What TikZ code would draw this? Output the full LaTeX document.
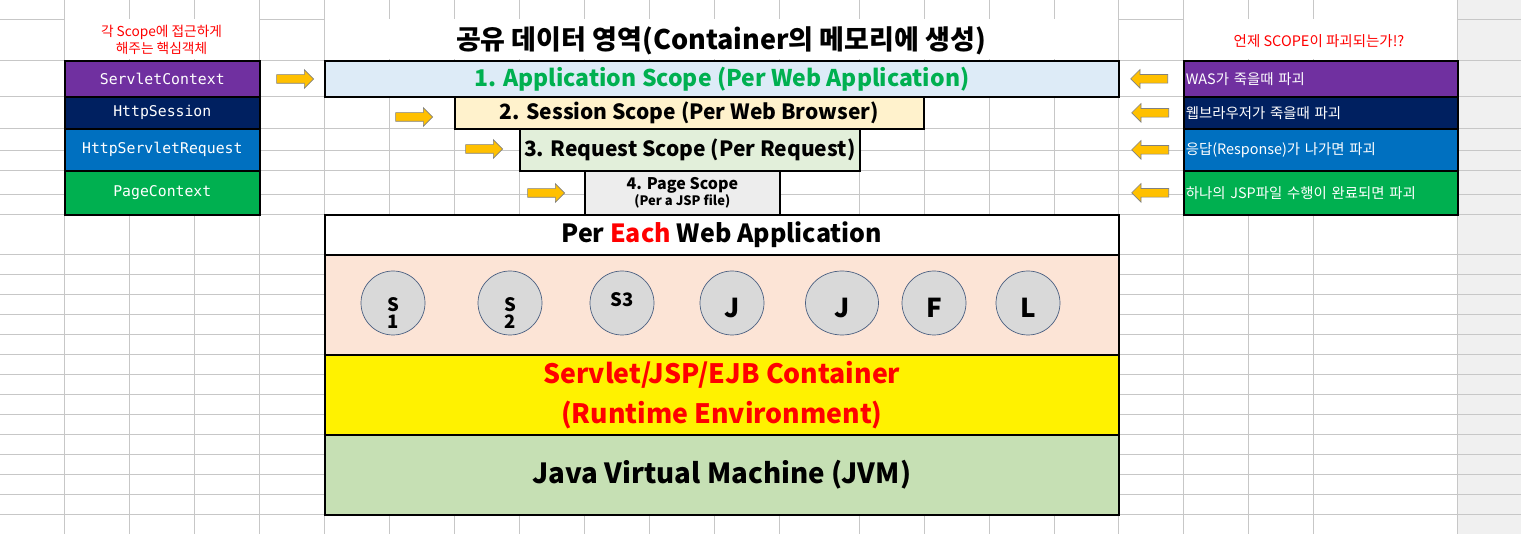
\documentclass[tikz,border=0pt]{standalone}
\usepackage{fontspec}
\setmainfont{Noto Sans CJK KR}
\setmonofont{DejaVu Sans Mono}
\newfontfamily\krwide{Noto Sans CJK KR}[WordSpace=2.6]
\usepackage{tikz}
\usetikzlibrary{positioning,shapes.geometric,shapes.arrows}
\definecolor{XLpurple}{HTML}{7030A0}
\definecolor{XLnavy}{HTML}{002060}
\definecolor{XLblue}{HTML}{0070C0}
\definecolor{XLgreen}{HTML}{00B050}
\definecolor{XLred}{HTML}{FF0000}
\definecolor{XLorange}{HTML}{FFC000}
\definecolor{appfill}{HTML}{DDEBF7}
\definecolor{sessfill}{HTML}{FFF2CC}
\definecolor{reqfill}{HTML}{E2EFDA}
\definecolor{pagefill}{HTML}{EDEDED}
\definecolor{peach}{HTML}{FCE4D6}
\definecolor{jvmfill}{HTML}{C6E0B4}
\definecolor{compfill}{HTML}{D9D9D9}
\definecolor{compline}{HTML}{4A5F80}
\definecolor{sheetgray}{HTML}{F0F0F0}
\newcommand\fsz[1]{\fontsize{#1}{1.2\dimexpr#1pt\relax}\selectfont}
\newcommand\sink[2]{\raisebox{-#1}[\height][\depth]{#2}}
\tikzset{
  sheet/line/.style={draw=black!22, line width=0.8pt},
  layer/box/.style={draw, line width=1.6pt, anchor=north west, inner sep=0pt, align=center},
  obj/left/.style={layer/box, minimum width=195pt, text=white, font=\ttfamily\fsz{14.8}},
  obj/right/.style={layer/box, text width=270pt, inner xsep=2pt, align=left, text=white, font=\krwide\fsz{14.4}},
  note/.style={align=center, text=XLred, font=\fsz{13.7}},
  comp/.style={ellipse, draw=compline, line width=0.7pt, fill=compfill, inner sep=0pt, minimum width=64pt, minimum height=64pt, font=\bfseries\fsz{26}},
  arrR/.style={single arrow, draw=black!50, line width=0.6pt, fill=XLorange, inner xsep=0pt, inner ysep=4pt, minimum height=37pt, single arrow head extend=5pt},
  arrL/.style={arrR, shape border rotate=180}
}
\begin{document}
\begin{tikzpicture}[x=1pt, y=-1pt]
\useasboundingbox (0,0) rectangle (1521,534);
% spreadsheet background
\fill[sheetgray] (1457,0) rectangle (1521,534);
\foreach \x in {64,129,194,259,324,389,454,519,584,649,714,779,859,924,989,1054,1118,1183,1248,1313,1457}
  \draw[sheet/line] (\x,0) -- (\x,534);
\foreach \y in {19,60,96,128,150,170,194,214,254,274,...,514}
  \draw[sheet/line] (0,\y) -- (1521,\y);
\foreach \a/\b in {64/259,324/1118,1183/1457}
  \fill[white] (\a+0.5,19.5) rectangle (\b-0.5,59.5);

% headers
\node[note] (leftnote) at (161.5,40) {각 Scope에 접근하게\\해주는 핵심객체};
\node[font=\bfseries\fsz{27}] (title) at (721,41) {공유 데이터 영역(Container의 메모리에 생성)};
\node[note, font=\fsz{14.5}] (rightnote) at (1319,41) {언제 SCOPE이 파괴되는가!?};

% objects giving access to each scope
\node[obj/left, fill=XLpurple, minimum height=36pt] (ctx) at (64,60) {ServletContext};
\node[obj/left, fill=XLnavy, minimum height=32pt] (hses) at (64,96) {HttpSession};
\node[obj/left, fill=XLblue, minimum height=42pt] (hreq) at (64,128) {HttpServletRequest};
\node[obj/left, fill=XLgreen, minimum height=44pt] (pctx) at (64,170) {PageContext};

% scopes
\node[layer/box, fill=appfill, minimum width=794pt, minimum height=36pt, text=XLgreen, font=\bfseries\fsz{23}] (app) at (324,60) {1. Application Scope (Per Web Application)};
\node[layer/box, fill=sessfill, minimum width=469pt, minimum height=32pt, font=\bfseries\fsz{21}] (sess) at (454,96) {2. Session Scope (Per Web Browser)};
\node[layer/box, fill=reqfill, minimum width=340pt, minimum height=42pt, font=\bfseries\fsz{21}] (req) at (519,128) {3. Request Scope (Per Request)};
\node[layer/box, fill=pagefill, minimum width=195pt, minimum height=44pt] (page) at (584,170)
  {{\bfseries\fsz{16}4. Page Scope}\\[1pt]{\bfseries\fsz{13}(Per a JSP file)}};

% when each scope is destroyed
\node[obj/right, fill=XLpurple, minimum height=36pt] (wasdie) at (1183,60) {WAS가 죽을때 파괴};
\node[obj/right, fill=XLnavy, minimum height=32pt] (brdie) at (1183,96) {웹브라우저가 죽을때 파괴};
\node[obj/right, fill=XLblue, minimum height=42pt] (resdie) at (1183,128) {응답(Response)가 나가면 파괴};
\node[obj/right, fill=XLgreen, minimum height=44pt] (jspdie) at (1183,170) {하나의 JSP파일 수행이 완료되면 파괴};

% arrows
\node[arrR] (a1) at (293,79) {};
\node[arrR] (a2) at (412,117) {};
\node[arrR] (a3) at (482,149) {};
\node[arrR] (a4) at (544,193) {};
\node[arrL, left=15pt of wasdie] (b1) {};
\node[arrL, left=14pt of brdie] (b2) {};
\node[arrL, left=14pt of resdie] (b3) {};
\node[arrL, left=14pt of jspdie] (b4) {};

% web application stack
\node[layer/box, fill=white, minimum width=794pt, minimum height=40pt, font=\bfseries\fsz{25}] (pewa) at (324,214)
  {Per \textcolor{XLred}{Each} Web Application};
\node[layer/box, fill=peach, minimum width=794pt, minimum height=100pt] (apps) at (324,254) {};
\node[layer/box, fill=yellow, minimum width=794pt, minimum height=80pt, text=XLred, font=\bfseries\fsz{26.7}] (cont) at (324,354)
  {Servlet/JSP/EJB Container\\[8pt](Runtime Environment)};
\node[layer/box, fill=jvmfill, minimum width=794pt, minimum height=80pt, font=\bfseries\fsz{27.7}] (jvm) at (324,434)
  {Java Virtual Machine (JVM)};

% components
\node[comp, font=\bfseries\fsz{18.5}] (s1) at (393,303) {\sink{10pt}{\shortstack{S\\[1pt]1}}};
\node[comp, font=\bfseries\fsz{18.5}] (s2) at (510,303) {\sink{10pt}{\shortstack{S\\[1pt]2}}};
\node[comp, font=\bfseries\fsz{18.5}] (s3) at (622,303) {\sink{-3pt}{S3}};
\node[comp] (j1) at (732,303) {\sink{5pt}{J}};
\node[comp, minimum width=73pt] (j2) at (842,303) {\sink{5pt}{J}};
\node[comp] (f1) at (934,303) {\sink{5pt}{F}};
\node[comp] (l1) at (1028,303) {\sink{5pt}{L}};
\end{tikzpicture}
\end{document}
